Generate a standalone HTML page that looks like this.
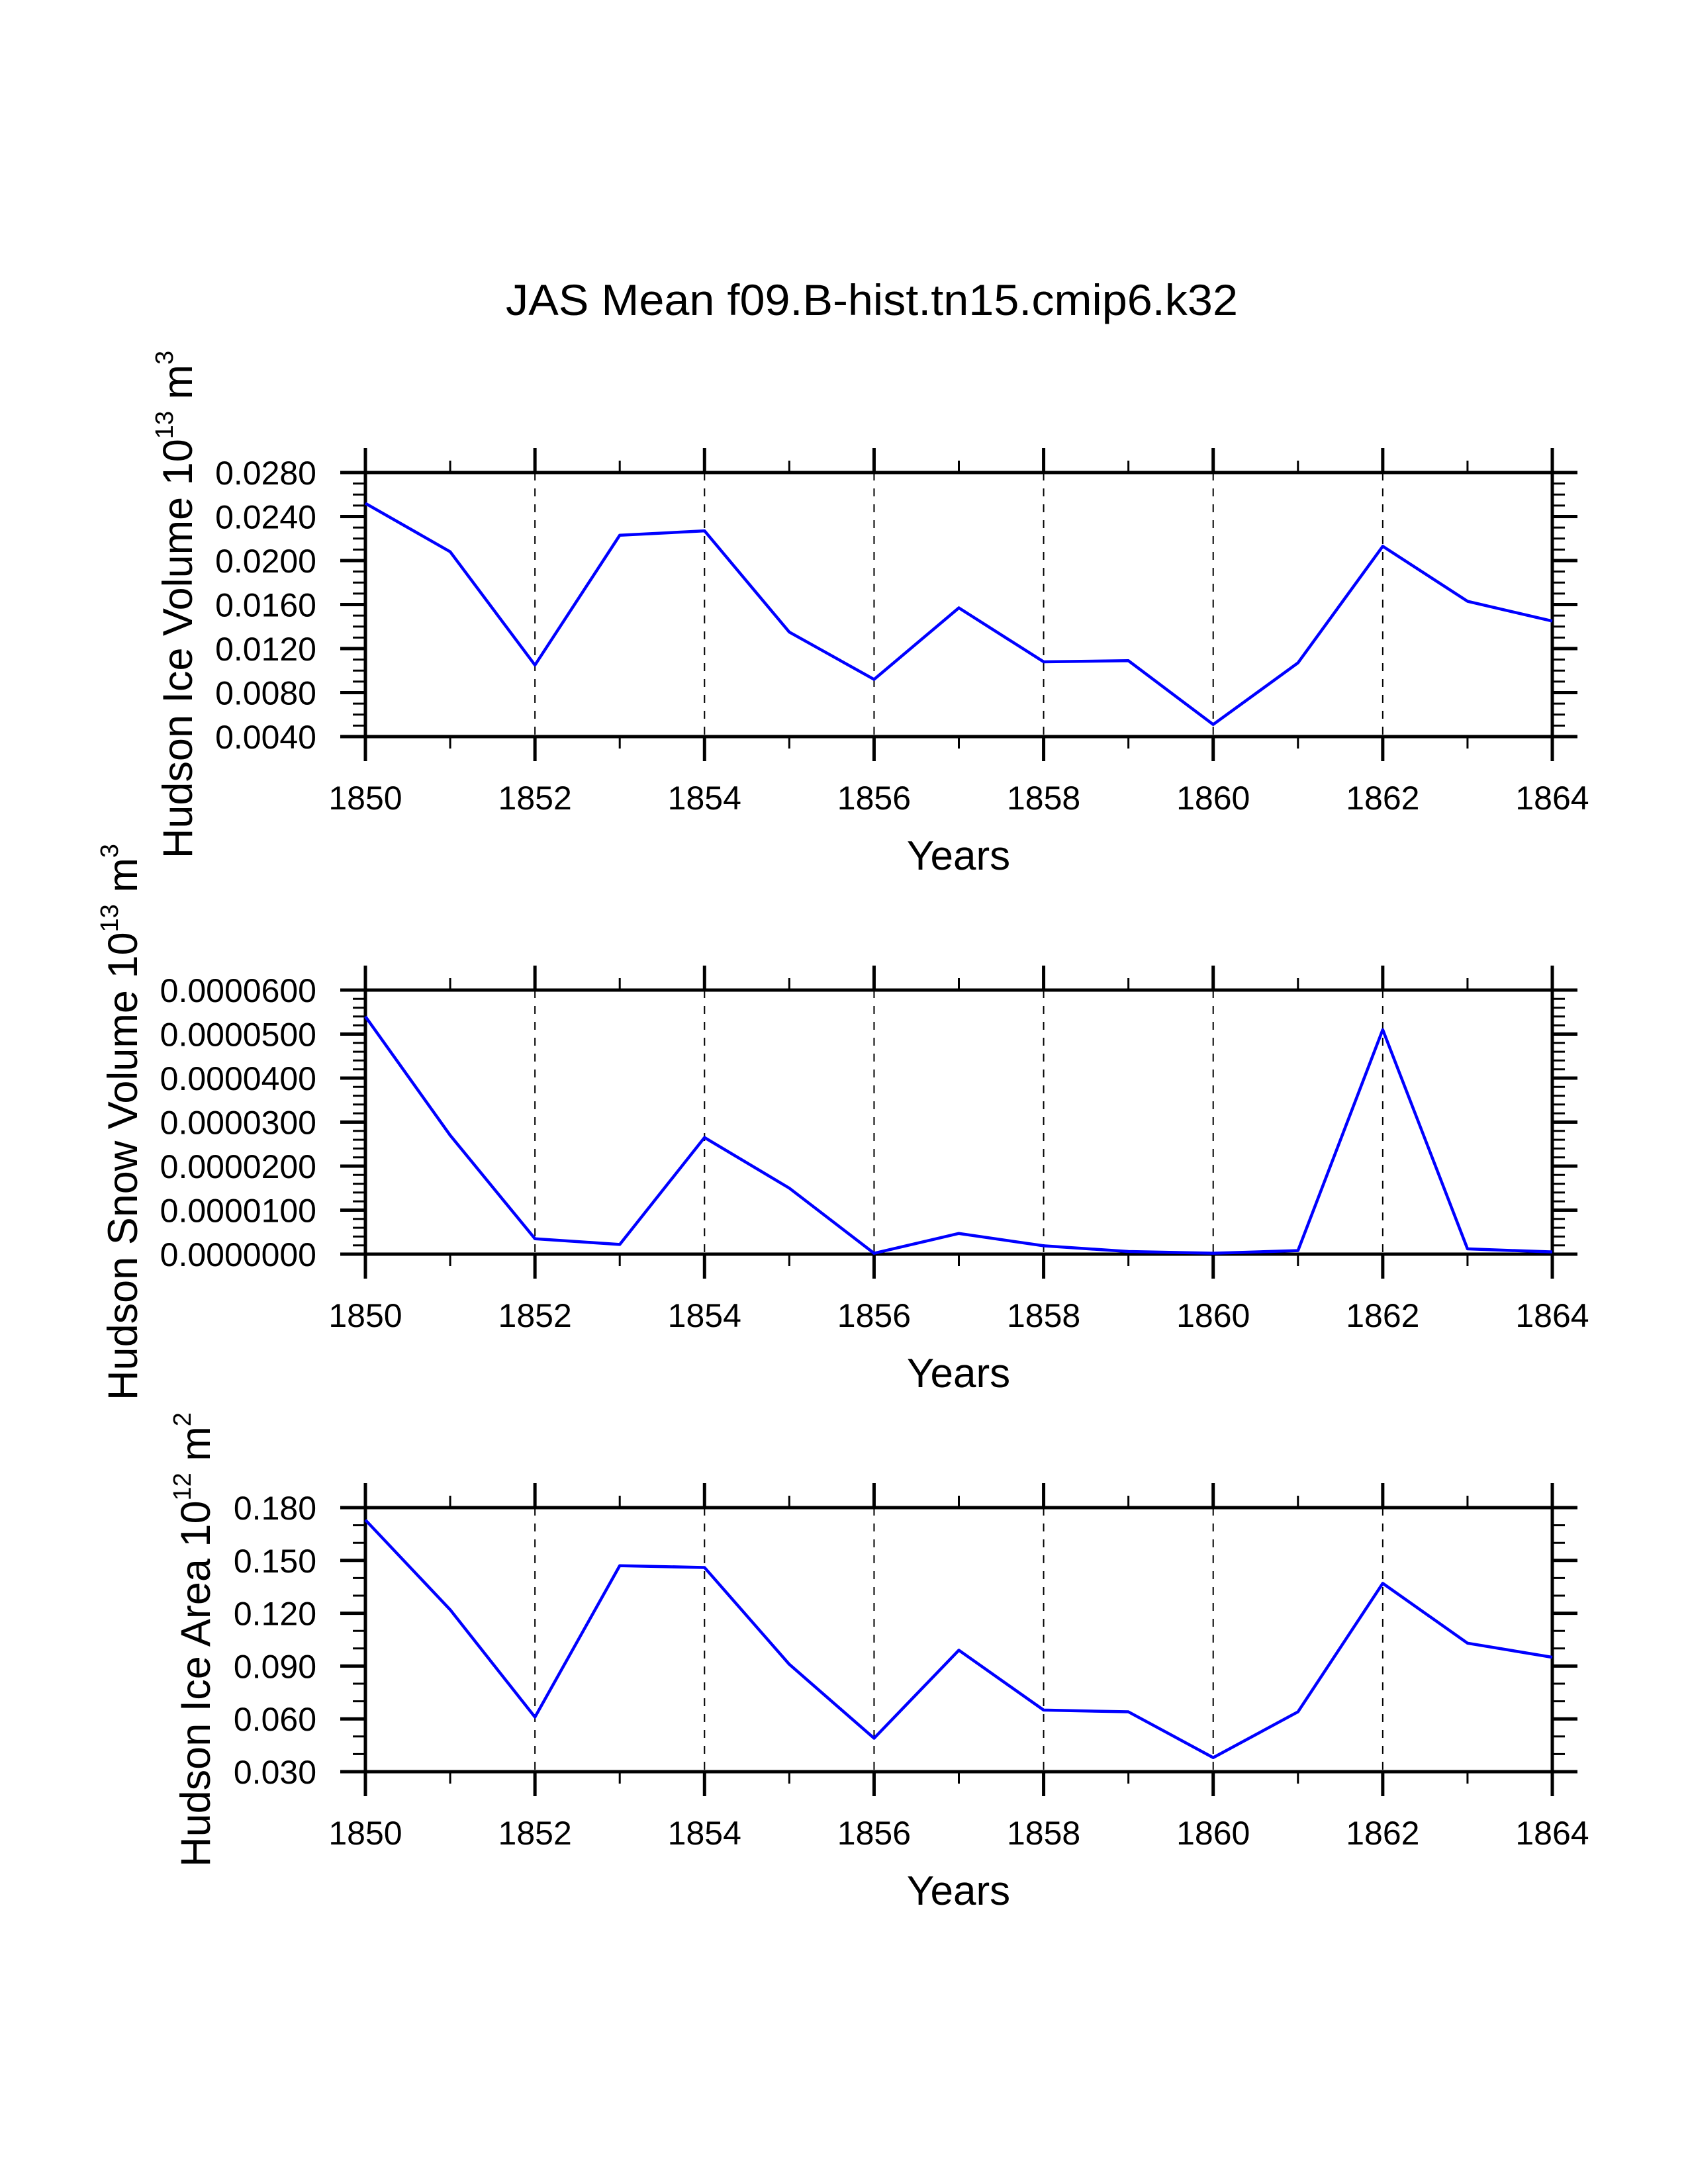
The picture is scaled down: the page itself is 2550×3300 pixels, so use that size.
<!DOCTYPE html>
<html><head><meta charset="utf-8"><style>
html,body{margin:0;padding:0;background:#fff;}
svg{display:block;font-family:"Liberation Sans",Arial,sans-serif;}
</style></head><body>
<svg id="chart" width="2550" height="3300" viewBox="0 0 2550 3300" xmlns="http://www.w3.org/2000/svg">
<rect width="2550" height="3300" fill="#fff"/>
<text x="1317" y="476" font-size="66" text-anchor="middle" textLength="1106" lengthAdjust="spacingAndGlyphs">JAS Mean f09.B-hist.tn15.cmip6.k32</text>
</svg>
<script>
const years = [1850,1851,1852,1853,1854,1855,1856,1857,1858,1859,1860,1861,1862,1863,1864];
const iceVolume = [0.0252,0.0208,0.0105,0.0223,0.0227,0.0135,0.0092,0.0157,0.0108,0.0109,0.0051,0.0107,0.0213,0.0163,0.0145];
const snowVolume = [0.0000540,0.0000270,0.0000035,0.0000022,0.0000265,0.0000150,0.0000002,0.0000047,0.0000019,0.0000006,0.0000002,0.0000008,0.0000510,0.0000012,0.0000005];
const iceArea = [0.173,0.122,0.061,0.147,0.146,0.091,0.049,0.099,0.065,0.064,0.038,0.064,0.137,0.103,0.095];
const xTickLabels = ["1850","1852","1854","1856","1858","1860","1862","1864"];
const iceVolumeTicks = [0.004,0.008,0.012,0.016,0.020,0.024,0.028];
const snowVolumeTicks = [0,0.00001,0.00002,0.00003,0.00004,0.00005,0.00006];
const iceAreaTicks = [0.03,0.06,0.09,0.12,0.15,0.18];

const NS = "http://www.w3.org/2000/svg";
const svg = document.getElementById("chart");
function mk(tag, attrs, parent){
  const e = document.createElementNS(NS, tag);
  for (const k in attrs) e.setAttribute(k, attrs[k]);
  (parent||svg).appendChild(e);
  return e;
}
const X0 = 552, X1 = 2345;
function xs(y){ return X0 + (y - 1850) / 14 * (X1 - X0); }

const panels = [
  {name:"ice-volume", vals:iceVolume, ticks:iceVolumeTicks, min:0.004, max:0.028, minor:0.001, dec:4, top:714, titleX:268, label:"Hudson Ice Volume 10", sup1:"13", unit:" m", sup2:"3"},
  {name:"snow-volume", vals:snowVolume, ticks:snowVolumeTicks, min:0, max:0.00006, minor:0.000002, dec:7, top:1496, titleX:185, label:"Hudson Snow Volume 10", sup1:"13", unit:" m", sup2:"3"},
  {name:"ice-area", vals:iceArea, ticks:iceAreaTicks, min:0.03, max:0.18, minor:0.01, dec:3, top:2278, titleX:295, label:"Hudson Ice Area 10", sup1:"12", unit:" m", sup2:"2"}
];

panels.forEach(p => {
  const H = 399, T = p.top, B = T + H;
  const g = mk("g", {});
  
  
  const ys = v => B - (v - p.min) / (p.max - p.min) * H;
  years.forEach(y => {
    if (y % 2 === 0 && y !== 1850 && y !== 1864) {
      const l = mk("line", {x1:xs(y), x2:xs(y), y1:T, y2:B, stroke:"#000", "stroke-width":2, "stroke-dasharray":"12 12"}, g);
      
      
    }
  });
  years.forEach(y => {
    const major = y % 2 === 0;
    const len = major ? 37 : 18, w = major ? 5 : 3;
    const a = mk("line", {x1:xs(y), x2:xs(y), y1:T, y2:T-len, stroke:"#000", "stroke-width":w}, g);
    
    
    const b = mk("line", {x1:xs(y), x2:xs(y), y1:B, y2:B+len, stroke:"#000", "stroke-width":w}, g);
    
    
  });
  xTickLabels.forEach(s => {
    const t = mk("text", {x:xs(+s), y:B+110, "font-size":50, "text-anchor":"middle"}, g);
    
    
    t.textContent = s;
  });
  const nMinor = Math.round((p.max - p.min) / p.minor);
  for (let i = 0; i <= nMinor; i++) {
    const v = p.min + i * p.minor, y = ys(v);
    const a = mk("line", {x1:X0, x2:X0-19, y1:y, y2:y, stroke:"#000", "stroke-width":3}, g);
    
    
    const b = mk("line", {x1:X1, x2:X1+19, y1:y, y2:y, stroke:"#000", "stroke-width":3}, g);
    
    
  }
  p.ticks.forEach(v => {
    const y = ys(v);
    const a = mk("line", {x1:X0, x2:X0-38, y1:y, y2:y, stroke:"#000", "stroke-width":5}, g);
    
    
    const b = mk("line", {x1:X1, x2:X1+38, y1:y, y2:y, stroke:"#000", "stroke-width":5}, g);
    
    
    const t = mk("text", {x:478, y:y+18, "font-size":50, "text-anchor":"end"}, g);
    
    
    t.textContent = v.toFixed(p.dec);
  });
  const f = mk("rect", {x:X0, y:T, width:X1-X0, height:H, fill:"none", stroke:"#000", "stroke-width":5}, g);
  
  
  const pts = p.vals.map((v, i) => xs(years[i]) + "," + ys(v)).join(" ");
  const pl = mk("polyline", {points:pts, fill:"none", stroke:"#0000ff", "stroke-width":4.5, "stroke-linejoin":"round"}, g);
  
  
  const xt = mk("text", {x:1448, y:B+201, "font-size":62, "text-anchor":"middle"}, g);
  
  
  xt.textContent = "Years";
  const cy = T + H / 2;
  const yt = mk("text", {x:0, y:0, "font-size":63, "text-anchor":"middle", transform:"translate(" + (p.titleX + 22) + "," + cy + ") rotate(-90)"}, g);
  
  
  const s1 = mk("tspan", {}, yt); s1.textContent = p.label;
  const s2 = mk("tspan", {dy:-29, "font-size":38}, yt); s2.textContent = p.sup1;
  const s3 = mk("tspan", {dy:29}, yt); s3.textContent = p.unit;
  const s4 = mk("tspan", {dy:-29, "font-size":38}, yt); s4.textContent = p.sup2;
});
</script>
</body></html>
